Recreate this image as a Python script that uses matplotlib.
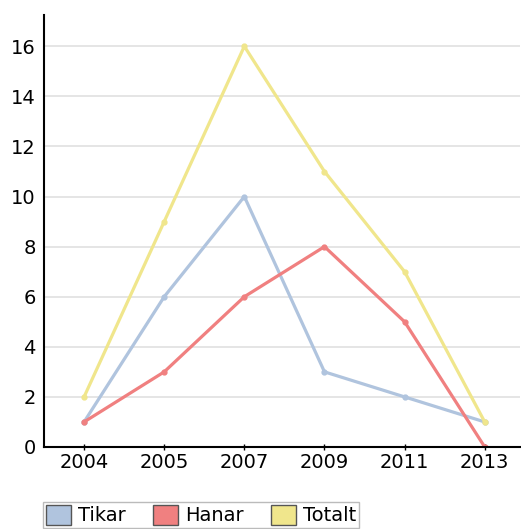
import matplotlib
matplotlib.use("Agg")
import matplotlib.pyplot as plt
from matplotlib.patches import Patch

years = ["2004", "2005", "2007", "2009", "2011", "2013"]
tikar = [1, 6, 10, 3, 2, 1]
hanar = [1, 3, 6, 8, 5, 0]
totalt = [2, 9, 16, 11, 7, 1]

series = [
    ("Tikar", tikar, "#B0C4DE"),
    ("Hanar", hanar, "#F08080"),
    ("Totalt", totalt, "#F0E68C"),
]

plt.rcParams["font.family"] = ["DejaVu Sans"]

fig = plt.figure(figsize=(5.21, 5.29), dpi=100)
ax = fig.add_axes([44 / 521, 1 - 447 / 529, 476 / 521, 432 / 529])

x = list(range(len(years)))
for name, vals, color in series:
    ax.plot(x, vals, color=color, linewidth=2.3, marker="o", markersize=3.5,
            solid_capstyle="round")

ax.set_xlim(-0.5, 5.44)
ax.set_ylim(0, 17.25)
ax.set_xticks(x)
ax.set_xticklabels(years)
ax.set_yticks(range(0, 17, 2))
ax.yaxis.grid(True, color="#E0E0E0", linewidth=1.2)
ax.set_axisbelow(True)

for side in ["top", "right"]:
    ax.spines[side].set_visible(False)
for side in ["left", "bottom"]:
    ax.spines[side].set_linewidth(1.5)
    ax.spines[side].set_color("black")

ax.tick_params(axis="x", length=5, width=1, direction="inout", labelsize=14, pad=2)
ax.tick_params(axis="y", length=0, labelsize=14, pad=6)

handles = [Patch(facecolor=c, edgecolor="#555555", label=n) for n, v, c in series]
leg = fig.legend(handles=handles, loc="upper left",
                 bbox_to_anchor=(43 / 521, 1 - 502 / 529), ncol=3,
                 fontsize=14, frameon=True, fancybox=False, edgecolor="#AAAAAA",
                 handlelength=1.3, handleheight=1.2, handletextpad=0.35,
                 columnspacing=1.4, borderpad=0.15, borderaxespad=0)
leg.get_frame().set_linewidth(1)

fig.savefig("out.png", dpi=100)
